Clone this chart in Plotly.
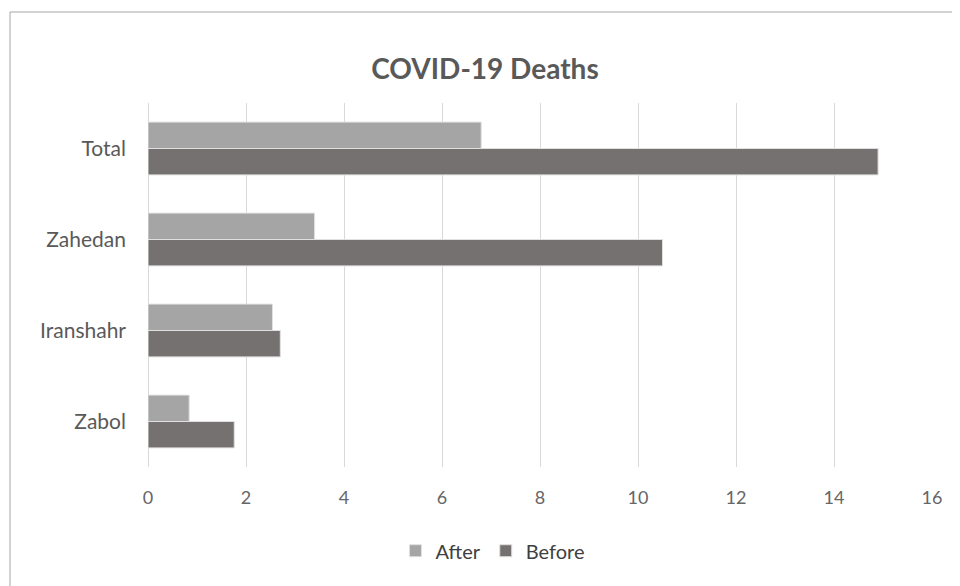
import plotly.graph_objects as go

categories = ["Zabol", "Iranshahr", "Zahedan", "Total"]
after_vals = [0.84, 2.54, 3.4, 6.8]
before_vals = [1.76, 2.7, 10.5, 14.9]
x_ticks = [0, 2, 4, 6, 8, 10, 12, 14, 16]

FONT = "Lato, 'Open Sans', sans-serif"
TXT = "#595959"

fig = go.Figure()
fig.add_trace(go.Bar(
    y=categories, x=before_vals, name="Before", orientation="h",
    marker=dict(color="#767171", line=dict(color="#E0E0E0", width=1)),
    legendrank=2,
))
fig.add_trace(go.Bar(
    y=categories, x=after_vals, name="After", orientation="h",
    marker=dict(color="#A5A5A5", line=dict(color="#E0E0E0", width=1)),
    legendrank=1,
))

fig.update_layout(
    width=960, height=586,
    margin=dict(l=140, r=36, t=95, b=127),
    paper_bgcolor="white", plot_bgcolor="white",
    barmode="group", bargap=0.42, bargroupgap=0,
    font=dict(family=FONT, color=TXT),
    title=dict(text="<b>COVID-19 Deaths</b>", x=(485 - 8) / 960, xanchor="center",
               y=1 - (69 - 8) / 586, yanchor="middle",
               font=dict(family=FONT, size=28, color=TXT)),
    xaxis=dict(range=[0, 16], tickvals=x_ticks, ticktext=[str(v) for v in x_ticks],
               showgrid=True, gridcolor="#D9D9D9", gridwidth=1,
               zeroline=True, zerolinecolor="#D9D9D9", zerolinewidth=1,
               showline=False, ticks="", ticklabelstandoff=18,
               tickfont=dict(size=18, color="#666666"),
               fixedrange=True),
    yaxis=dict(categoryorder="array", categoryarray=categories,
               showgrid=False, zeroline=False, showline=False, ticks="",
               ticklabelstandoff=21, tickfont=dict(size=21, color=TXT)),
    legend=dict(orientation="h", x=0.44, xanchor="center", y=-0.23, yanchor="middle",
                font=dict(size=20, color="#404040"), traceorder="normal",
                itemwidth=30),
    showlegend=True,
)

fig.add_shape(type="rect", xref="paper", yref="paper",
              x0=-0.176, x1=1.2, y0=-0.6, y1=1.25,
              line=dict(color="#A6A6A6", width=1), fillcolor="rgba(0,0,0,0)",
              layer="below")

fig.write_html("out.html")
